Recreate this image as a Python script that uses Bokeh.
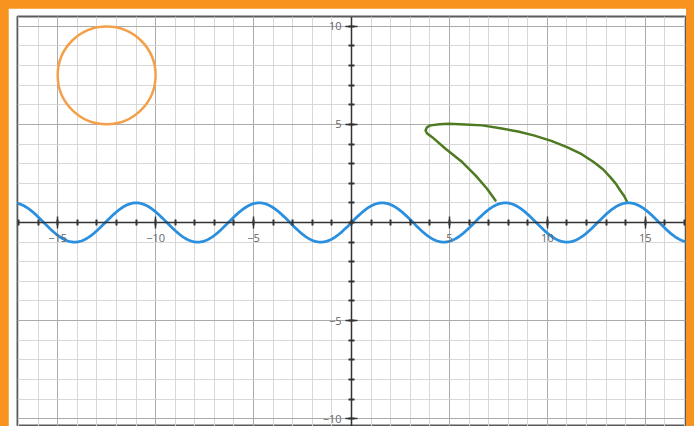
import numpy as np
from bokeh.plotting import figure
from bokeh.layouts import column
from bokeh.models import FixedTicker, Range1d
from bokeh.embed import file_html
from bokeh.resources import INLINE

# ---- data ----
x_major = [-15, -10, -5, 5, 10, 15]
y_major = [-10, -5, 5, 10]
x_minor = list(range(-17, 18))
y_minor = list(range(-11, 12))

# blue curve: y = A*sin(x)
wave_amp = 1.0
wave_x = np.linspace(-17.5, 17.5, 900)
wave_y = wave_amp * np.sin(wave_x)

# orange circle
circle_cx = -12.5
circle_cy = 7.5
circle_r = 2.5

# green fin
fin_x = [7.35, 6.92, 6.33, 5.65, 4.8, 4.12, 3.85, 3.78, 3.85, 4.03, 4.5, 4.97, 5.8, 6.67, 7.6,
         8.5, 9.3, 10.2, 11.0, 11.75, 12.36, 12.85, 13.21, 13.5, 13.72, 13.92, 14.06]
fin_y = [1.12, 1.72, 2.40, 3.08, 3.76, 4.35, 4.55, 4.69, 4.85, 4.95, 5.01, 5.03, 5.0, 4.95, 4.8,
         4.64, 4.44, 4.16, 3.84, 3.48, 3.08, 2.70, 2.31, 1.97, 1.63, 1.35, 1.07]

p = figure(width=678, height=418, output_backend="svg", toolbar_location=None,
           x_range=Range1d(-17.05, 17.05), y_range=Range1d(-10.4, 10.5),
           min_border_left=9, min_border_right=1, min_border_top=8, min_border_bottom=0,
           background_fill_color="white", border_fill_color="white")
p.outline_line_color = "#5a5a5a"
p.outline_line_width = 2

for ax, maj, mnr in ((p.xaxis, x_major, x_minor), (p.yaxis, y_major, y_minor)):
    ax.ticker = FixedTicker(ticks=maj, minor_ticks=mnr)
    ax.fixed_location = 0
    ax.axis_line_color = "#333333"
    ax.axis_line_width = 1.5
    ax.major_tick_line_color = "#333333"
    ax.major_tick_line_width = 1.5
    ax.major_tick_in = 6
    ax.major_tick_out = 6
    ax.minor_tick_line_color = "#333333"
    ax.minor_tick_line_width = 2
    ax.minor_tick_in = 3
    ax.minor_tick_out = 3
    ax.major_label_text_font = "Open Sans"
    ax.major_label_text_font_size = "11px"
    ax.major_label_text_color = "#666666"

p.xaxis.major_label_standoff = 6
p.yaxis.major_label_standoff = 4

for g in (p.xgrid, p.ygrid):
    g.grid_line_color = "#a0a0a0"
    g.grid_line_alpha = 0.8
    g.grid_line_width = 1
    g.minor_grid_line_color = "#d4d4d4"
    g.minor_grid_line_alpha = 0.9
    g.minor_grid_line_width = 1

p.circle(x=[circle_cx], y=[circle_cy], radius=circle_r, fill_color=None,
         line_color="#F4A04A", line_width=2.5)
p.line(fin_x, fin_y, line_color="#4E7A22", line_width=2.5, line_join="round", line_cap="round")
p.line(wave_x, wave_y, line_color="#2A8FDE", line_width=2.8)

layout = column(p, styles={"background-color": "#F7931E", "padding": "8px 8px 0px 8px"})

open("out.html", "w").write(file_html(layout, INLINE))
